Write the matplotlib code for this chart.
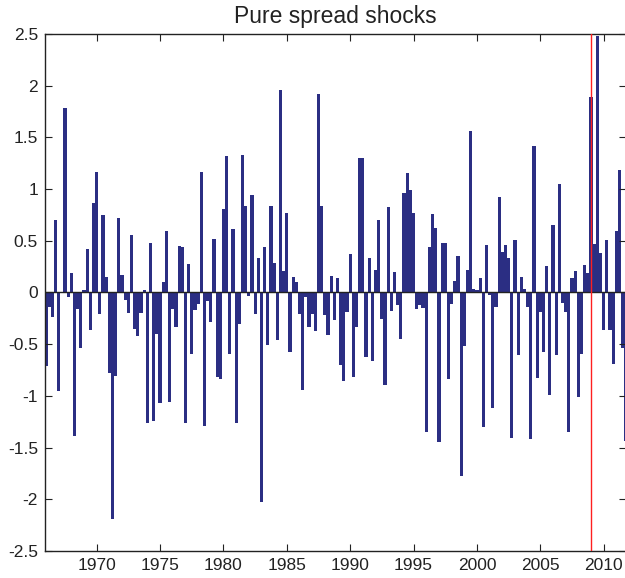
import numpy as np
import matplotlib
matplotlib.use("Agg")
import matplotlib.pyplot as plt
from matplotlib.ticker import FormatStrFormatter

plt.rcParams['font.family'] = ['Liberation Sans', 'DejaVu Sans']
plt.rcParams['axes.unicode_minus'] = False

# quarterly shocks, 1966Q1 onwards
shocks_66_73 = [-0.71, -0.14, -0.24, 0.70, -0.95, 0.00, 1.78, -0.04, 0.19, -1.39,
                -0.16, -0.54, 0.02, 0.42, -0.36, 0.87, 1.17, -0.21, 0.75, 0.15,
                -0.78, -2.19, -0.81, 0.72, 0.17, -0.07, -0.20, 0.56, -0.35, -0.42]
shocks_73_81 = [-0.20, 0.02, -1.26, 0.48, -1.24, -0.40, -1.07, 0.10, 0.59, -1.06,
                -0.16, -0.33, 0.45, 0.44, -1.26, 0.28, -0.59, -0.17, -0.11, 1.17,
                -1.29, -0.08, -0.29, 0.52, -0.82, -0.84, 0.81, 1.32, -0.59, 0.61]
shocks_81_88 = [-1.26, -0.30, 1.33, 0.84, -0.03, 0.94, -0.21, 0.33, -2.03, 0.44,
                -0.51, 0.84, 0.29, -0.46, 1.96, 0.21, 0.77, -0.58, 0.15, 0.10,
                -0.21, -0.94, -0.04, -0.33, -0.21, -0.37, 1.92, 0.84, -0.22, -0.41]
shocks_88_96 = [0.16, -0.27, 0.14, -0.70, -0.86, -0.19, 0.37, -0.82, -0.33, 1.30,
                1.30, -0.62, 0.33, -0.66, 0.22, 0.70, -0.26, -0.89, 0.83, -0.18,
                0.20, -0.12, -0.45, 0.96, 1.16, 0.99, 0.77, -0.16, -0.12, -0.15]
shocks_96_03 = [-1.35, 0.44, 0.76, 0.62, -1.45, 0.48, 0.48, -0.84, -0.11, 0.11,
                0.35, -1.77, -0.52, 0.22, 1.56, 0.03, 0.02, 0.14, -1.30, 0.46,
                -0.02, -1.12, -0.14, 0.92, 0.39, 0.46, 0.33, -1.41, 0.51, -0.60]
shocks_03_11 = [0.15, 0.03, -0.14, -1.42, 1.42, -0.83, -0.19, -0.58, 0.26, -0.99,
                0.65, -0.60, 1.05, -0.10, -0.19, -1.35, 0.14, 0.21, -1.01, -0.59,
                0.27, 0.19, 1.89, 0.47, 2.48, 0.38, -0.36, 0.51, -0.36, -0.69,
                0.59, 1.18, -0.54, -1.44]

shocks = (shocks_66_73 + shocks_73_81 + shocks_81_88 + shocks_88_96
          + shocks_96_03 + shocks_03_11)
start_year = 1966.0
crisis_date = 2009.0

dates = start_year + 0.25 * np.arange(len(shocks))

fig = plt.figure(figsize=(6.25, 5.78), dpi=100)
ax = fig.add_axes([0.072, 0.0467, 0.930, 0.8945])

ax.bar(dates, shocks, width=0.25, color='#2b2e83', linewidth=0)
ax.axhline(0, color='#222222', lw=1.0, zorder=3)
ax.axvline(crisis_date, color='#ff2020', lw=1.0, zorder=4)

ax.set_xlim(1965.92, 2011.78)
ax.set_ylim(-2.5, 2.5)
ax.set_xticks(np.arange(1970, 2011, 5))
ax.set_yticks(np.arange(-2.5, 2.51, 0.5))
ax.yaxis.set_major_formatter(FormatStrFormatter('%g'))

ax.tick_params(direction='in', length=5, width=0.8, top=True, right=True,
               labelsize=12.5, colors='#222222', pad=5)
for sp in ax.spines.values():
    sp.set_color('#222222')
    sp.set_linewidth(1.0)

ax.set_title('Pure spread shocks', fontsize=16.5, color='#222222', pad=8)

fig.savefig('out.png', dpi=100)
